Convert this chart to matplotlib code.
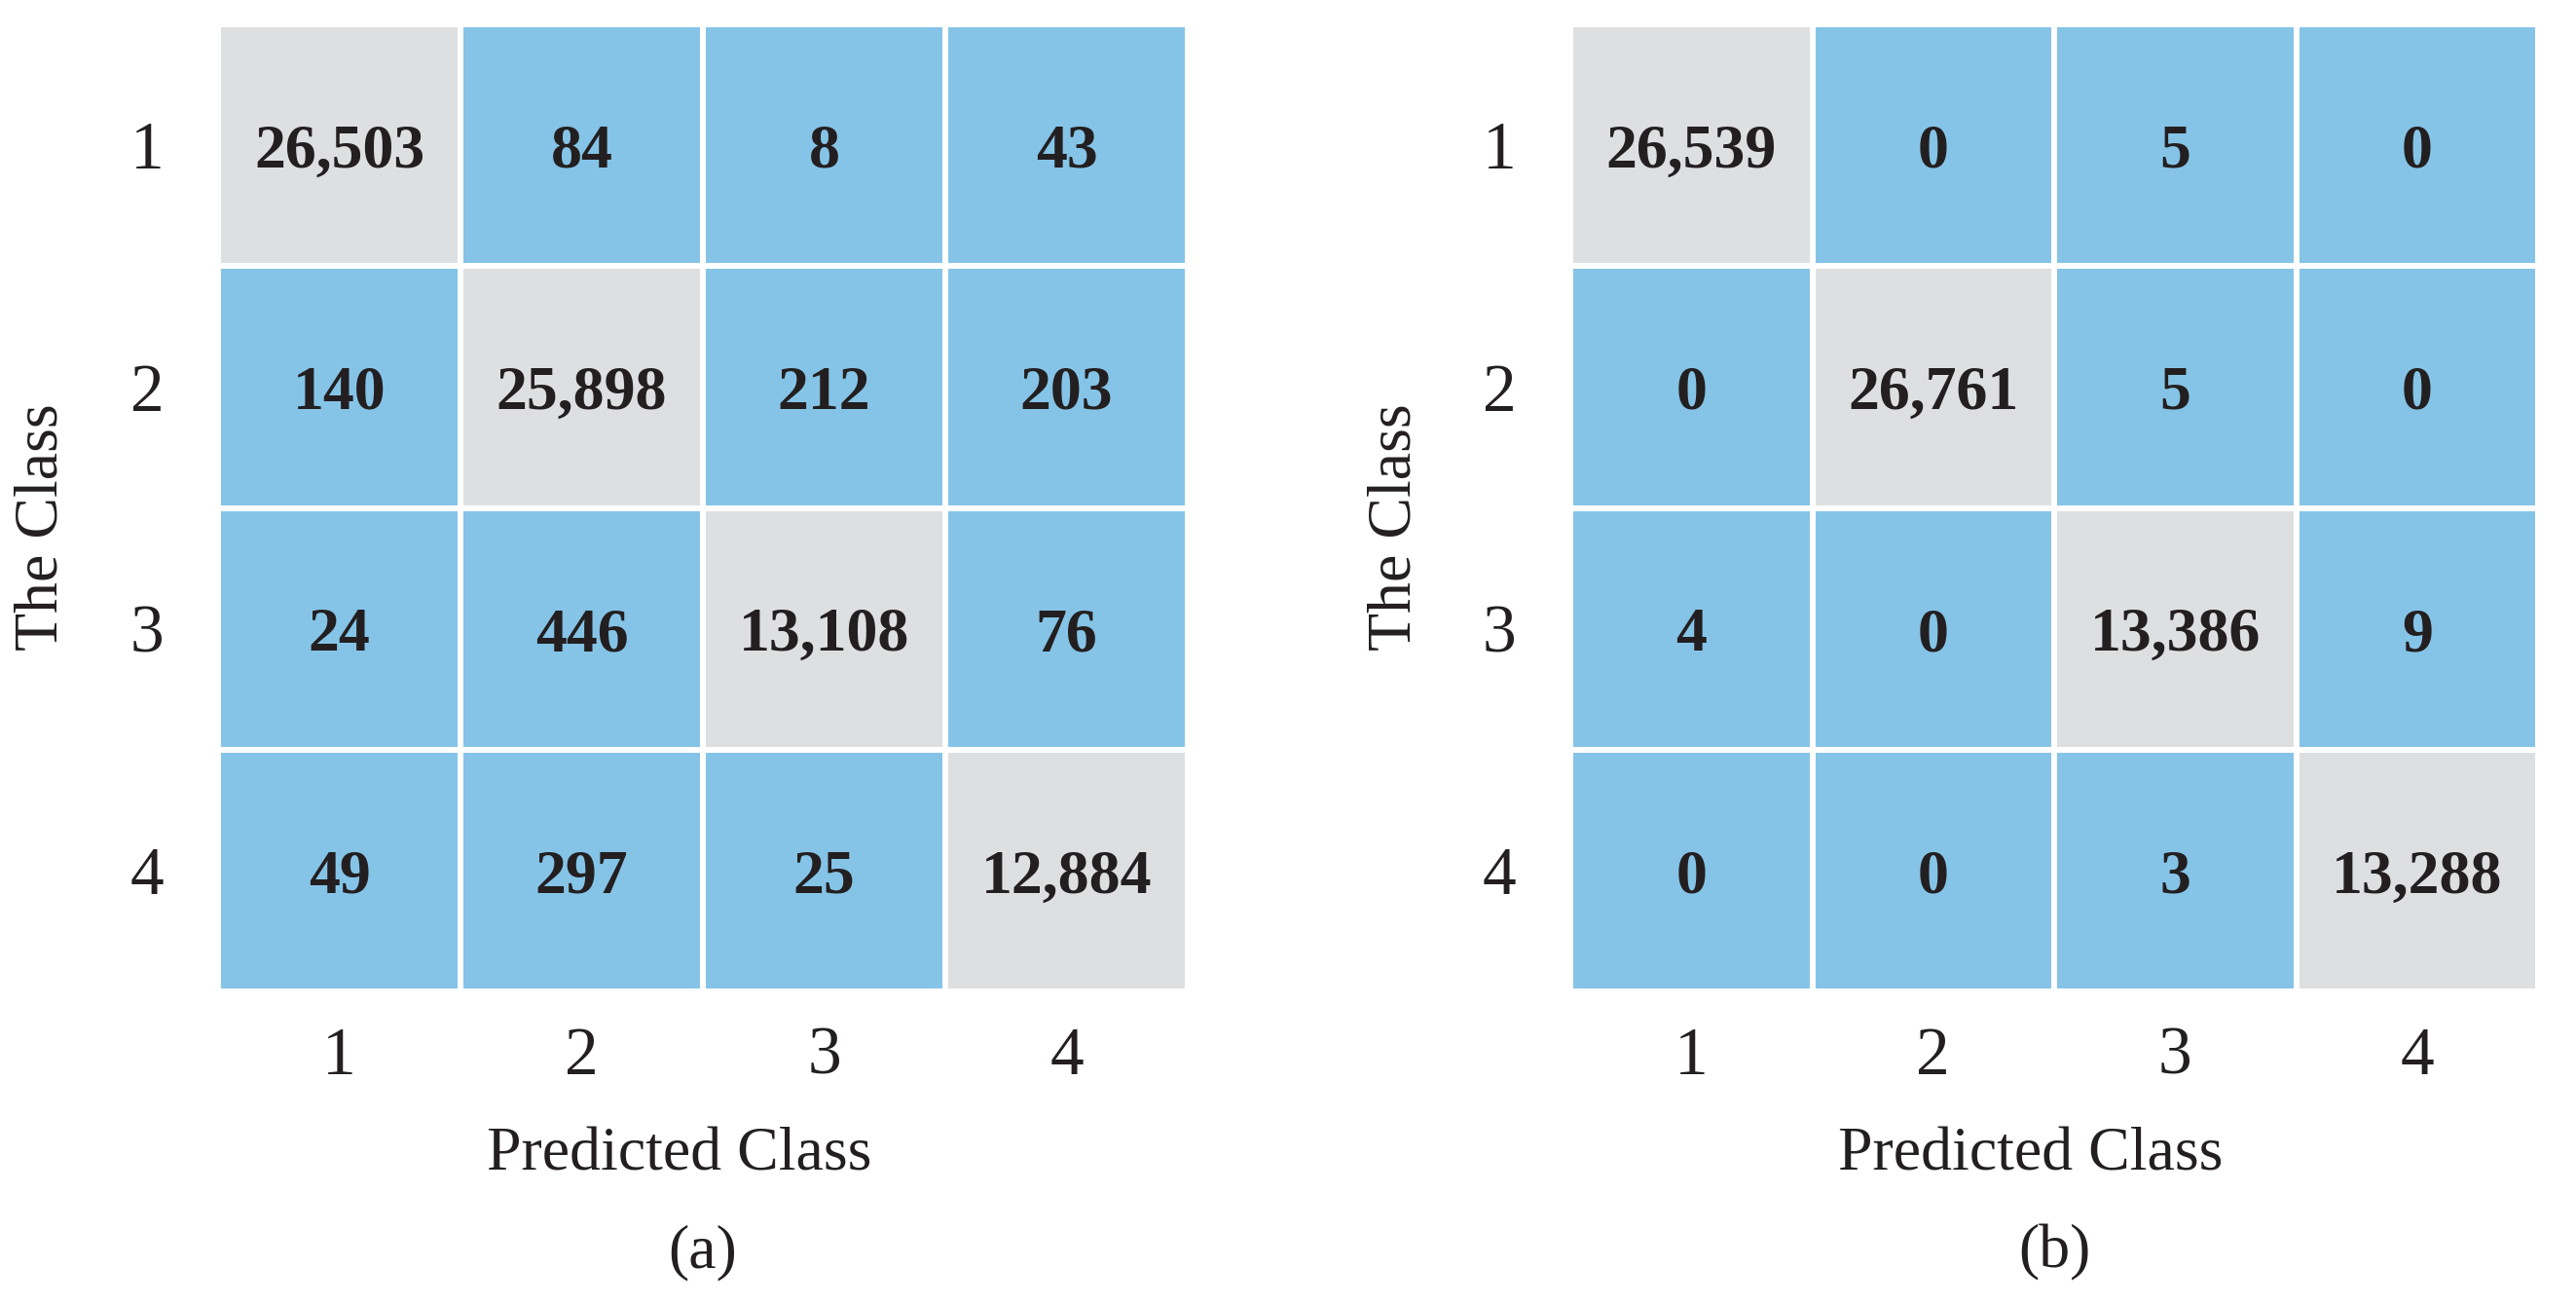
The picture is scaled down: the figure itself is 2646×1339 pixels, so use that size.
import matplotlib
matplotlib.use('Agg')
import matplotlib.pyplot as plt
from matplotlib.colors import ListedColormap
import numpy as np


classes = ['1', '2', '3', '4']
cm_a = [[26503, 84, 8, 43],
        [140, 25898, 212, 203],
        [24, 446, 13108, 76],
        [49, 297, 25, 12884]]
cm_b = [[26539, 0, 5, 0],
        [0, 26761, 5, 0],
        [4, 0, 13386, 9],
        [0, 0, 3, 13288]]
panel_tags = ['(a)', '(b)']

blue = '#85c4e7'
grey = '#dedfe1'
ink = '#231f20'

plt.rcParams['font.family'] = ['Liberation Serif', 'DejaVu Serif']


def draw_matrix(ax, cm, tag):
	cm = np.array(cm)
	n = len(classes)
	diag = np.eye(n)
	ax.pcolormesh(diag, cmap=ListedColormap([blue, grey]), vmin=0, vmax=1,
				  edgecolors='white', linewidth=4)
	ax.set_xlim(0, n)
	ax.set_ylim(n, 0)
	# values sit a touch below the cell centre, like the original
	for i in range(n):
		for j in range(n):
			ax.text(j + 0.5, i + 0.53, f'{cm[i, j]:,}', ha='center', va='center',
					fontsize=46, fontweight='bold', color=ink)
	ax.set_xticks(np.arange(n) + 0.5)
	ax.set_yticks(np.arange(n) + 0.5)
	ax.set_xticklabels(classes)
	ax.set_yticklabels(classes)
	ax.tick_params(length=0, labelsize=50, labelcolor=ink)
	ax.tick_params(axis='x', pad=26)
	ax.tick_params(axis='y', pad=40)
	for s in ax.spines.values():
		s.set_visible(False)
	ax.set_xlabel('Predicted Class', fontsize=46, color=ink)
	ax.xaxis.label.set_va('center')
	ax.xaxis.set_label_coords(0.475, -0.17)
	ax.set_ylabel('The Class', fontsize=46, color=ink)
	ax.yaxis.label.set_va('center')
	ax.yaxis.set_label_coords(-0.181, 0.48)
	ax.text(0.5, -0.27, tag, transform=ax.transAxes, ha='center', va='center',
			fontsize=46, color=ink)


def main():
	fig = plt.figure(figsize=(26.46, 13.39), dpi=100)
	ax1 = fig.add_axes([0.0847, 0.2397, 0.3764, 0.7416])
	ax2 = fig.add_axes([0.6096, 0.2397, 0.3757, 0.7416])
	draw_matrix(ax1, cm_a, panel_tags[0])
	draw_matrix(ax2, cm_b, panel_tags[1])
	fig.savefig('out.png', dpi=100, facecolor='white')


if __name__ == '__main__':
	main()
